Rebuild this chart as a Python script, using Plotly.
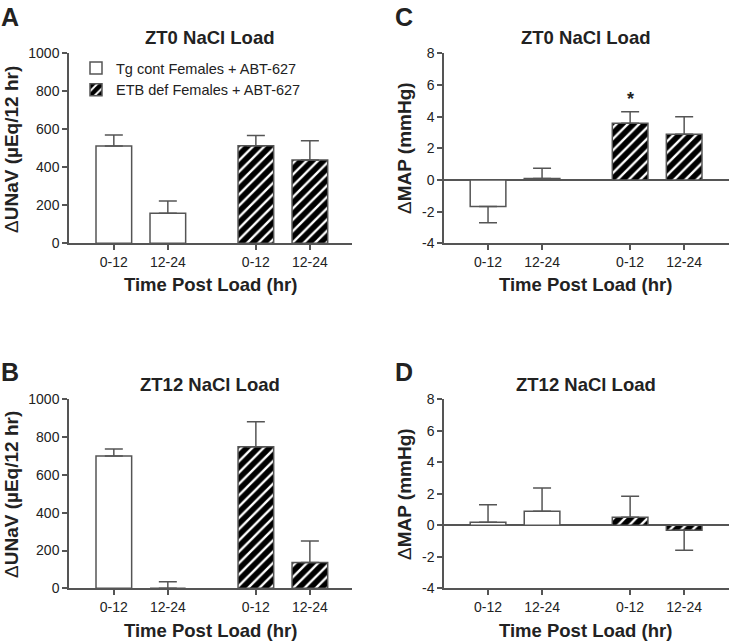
import plotly.graph_objects as go

# ---------------- data ----------------
periods = ["0-12", "12-24"]
tg_pos = [0, 1]
etb_pos = [2.63, 3.63]
tick_pos = tg_pos + etb_pos
tick_text = periods + periods

series_names = ["Tg cont Females + ABT-627", "ETB def Females + ABT-627"]

unav_ticks = [0, 200, 400, 600, 800, 1000]
map_ticks = [-4, -2, 0, 2, 4, 6, 8]

# Panel A: ZT0 UNaV
a_tg = [512, 158]
a_tg_err = [58, 65]
a_etb = [514, 438]
a_etb_err = [54, 102]

# Panel B: ZT12 UNaV
b_tg = [700, 0]
b_tg_err = [37, 35]
b_etb = [749, 137]
b_etb_err = [132, 113]

# Panel C: ZT0 MAP
c_tg = [-1.68, 0.1]
c_tg_err = [1.02, 0.64]
c_etb = [3.58, 2.89]
c_etb_err = [0.73, 1.11]

# Panel D: ZT12 MAP
d_tg = [0.19, 0.89]
d_tg_err = [1.12, 1.48]
d_etb = [0.51, -0.32]
d_etb_err = [1.33, 1.27]

W, H = 729, 643
TXT = "#222222"
AX = "#555555"
FONT = "Liberation Sans, Arial, sans-serif"


def px(x):
    return x / W


def py(y):
    return 1 - y / H


def err_dict(vals, errs):
    up = [e if v >= 0 else 0 for v, e in zip(vals, errs)]
    dn = [e if v < 0 else 0 for v, e in zip(vals, errs)]
    return dict(type="data", symmetric=False, array=up, arrayminus=dn,
                color=AX, thickness=1.5, width=9)


fig = go.Figure()

panels = [
    ("x", "y", a_tg, a_tg_err, a_etb, a_etb_err, True),
    ("x2", "y2", b_tg, b_tg_err, b_etb, b_etb_err, False),
    ("x3", "y3", c_tg, c_tg_err, c_etb, c_etb_err, False),
    ("x4", "y4", d_tg, d_tg_err, d_etb, d_etb_err, False),
]

for xa, ya, tg, tge, etb, etbe, show in panels:
    fig.add_trace(go.Bar(
        x=tg_pos, y=tg, width=0.66, xaxis=xa, yaxis=ya,
        name=series_names[0], showlegend=show, legendgroup="tg",
        marker=dict(color="white", line=dict(color=AX, width=1.5)),
        error_y=err_dict(tg, tge)))
    fig.add_trace(go.Bar(
        x=etb_pos, y=etb, width=0.66, xaxis=xa, yaxis=ya,
        name=series_names[1], showlegend=show, legendgroup="etb",
        marker=dict(color="white", line=dict(color=AX, width=1.5),
                    pattern=dict(shape="/", fgcolor="#000000", bgcolor="white",
                                 fgopacity=1, size=8, solidity=0.7)),
        error_y=err_dict(etb, etbe)))

tickfont = dict(family=FONT, size=14, color=TXT)


def xaxis(dom, anchor, rng):
    return dict(domain=dom, anchor=anchor, range=rng, tickmode="array",
                tickvals=tick_pos, ticktext=tick_text, showline=True,
                linecolor=AX, linewidth=1.5, ticks="outside", ticklen=5,
                tickwidth=1.5, tickcolor=AX, showgrid=False, zeroline=False,
                tickfont=tickfont, fixedrange=True, automargin=False)


def yaxis(dom, anchor, rng, ticks, zl):
    return dict(domain=dom, anchor=anchor, range=rng, tickmode="array",
                tickvals=ticks, ticktext=[str(t) for t in ticks],
                showline=True, linecolor=AX, linewidth=1.5,
                ticks="outside", ticklen=5, tickwidth=1.5, tickcolor=AX,
                showgrid=False, zeroline=zl, zerolinecolor=AX,
                zerolinewidth=1.5, tickfont=tickfont, fixedrange=True,
                automargin=False)


left_dom = [px(69), px(352)]
right_dom = [px(444), 1.0]
top_dom = [py(243.3), py(53.3)]
bot_dom = [py(588.3), py(399.3)]

fig.update_layout(
    width=W, height=H,
    margin=dict(l=0, r=0, t=0, b=0, pad=0, autoexpand=False),
    paper_bgcolor="white", plot_bgcolor="white",
    barmode="overlay",
    font=dict(family=FONT, color=TXT),
    xaxis=xaxis(left_dom, "y", [-0.83, 4.41]),
    yaxis=yaxis(top_dom, "x", [0, 1000], unav_ticks, False),
    xaxis2=xaxis(left_dom, "y2", [-0.83, 4.41]),
    yaxis2=yaxis(bot_dom, "x2", [0, 1000], unav_ticks, False),
    xaxis3=xaxis(right_dom, "y3", [-0.815, 4.46]),
    yaxis3=yaxis(top_dom, "x3", [-4, 8], map_ticks, True),
    xaxis4=xaxis(right_dom, "y4", [-0.815, 4.46]),
    yaxis4=yaxis(bot_dom, "x4", [-4, 8], map_ticks, True),
    legend=dict(x=px(76), y=py(52), xanchor="left", yanchor="top",
                font=dict(family=FONT, size=14.5, color=TXT),
                bgcolor="rgba(0,0,0,0)", tracegroupgap=12,
                traceorder="normal", itemwidth=30),
    showlegend=True,
)

ann = []


def text(x, y, t, size, angle=0):
    ann.append(dict(x=px(x), y=py(y), xref="paper", yref="paper", text=t,
                    showarrow=False, xanchor="center", yanchor="middle",
                    textangle=angle,
                    font=dict(family=FONT, size=size, color=TXT)))


# panel letters
for lx, ly, t in [(10, 17, "<b>A</b>"), (10, 372, "<b>B</b>"),
                  (404, 17, "<b>C</b>"), (404, 372, "<b>D</b>")]:
    text(lx, ly, t, 25)

# panel titles
text(210, 37, "<b>ZT0 NaCl Load</b>", 18.5)
text(210, 384, "<b>ZT12 NaCl Load</b>", 18.5)
text(586, 37, "<b>ZT0 NaCl Load</b>", 18.5)
text(586, 384, "<b>ZT12 NaCl Load</b>", 18.5)

# x axis titles
text(211, 284, "<b>Time Post Load (hr)</b>", 18.5)
text(211, 630, "<b>Time Post Load (hr)</b>", 18.5)
text(585, 285, "<b>Time Post Load (hr)</b>", 18.5)
text(585, 630, "<b>Time Post Load (hr)</b>", 18.5)

# y axis titles
text(11, 150, "Δ<b>UNaV (µEq/12 hr)</b>", 19, angle=-90)
text(11, 495, "Δ<b>UNaV (µEq/12 hr)</b>", 19, angle=-90)
text(404, 148, "Δ<b>MAP (mmHg)</b>", 19, angle=-90)
text(404, 494, "Δ<b>MAP (mmHg)</b>", 19, angle=-90)

# significance marker
ann.append(dict(x=etb_pos[0], y=c_etb[0] + c_etb_err[0], xref="x3", yref="y3",
                text="<b>*</b>", showarrow=False, xanchor="center",
                yanchor="bottom", yshift=1,
                font=dict(family=FONT, size=18, color=TXT)))

fig.update_layout(annotations=ann)

post = """
document.body.style.margin='0';
document.documentElement.style.margin='0';
document.body.style.overflow='hidden';
var gd = document.getElementById('{plot_id}');
gd.style.position='fixed'; gd.style.top='0px'; gd.style.left='0px';
"""

fig.write_html("out.html", config={"displayModeBar": False}, post_script=post)
